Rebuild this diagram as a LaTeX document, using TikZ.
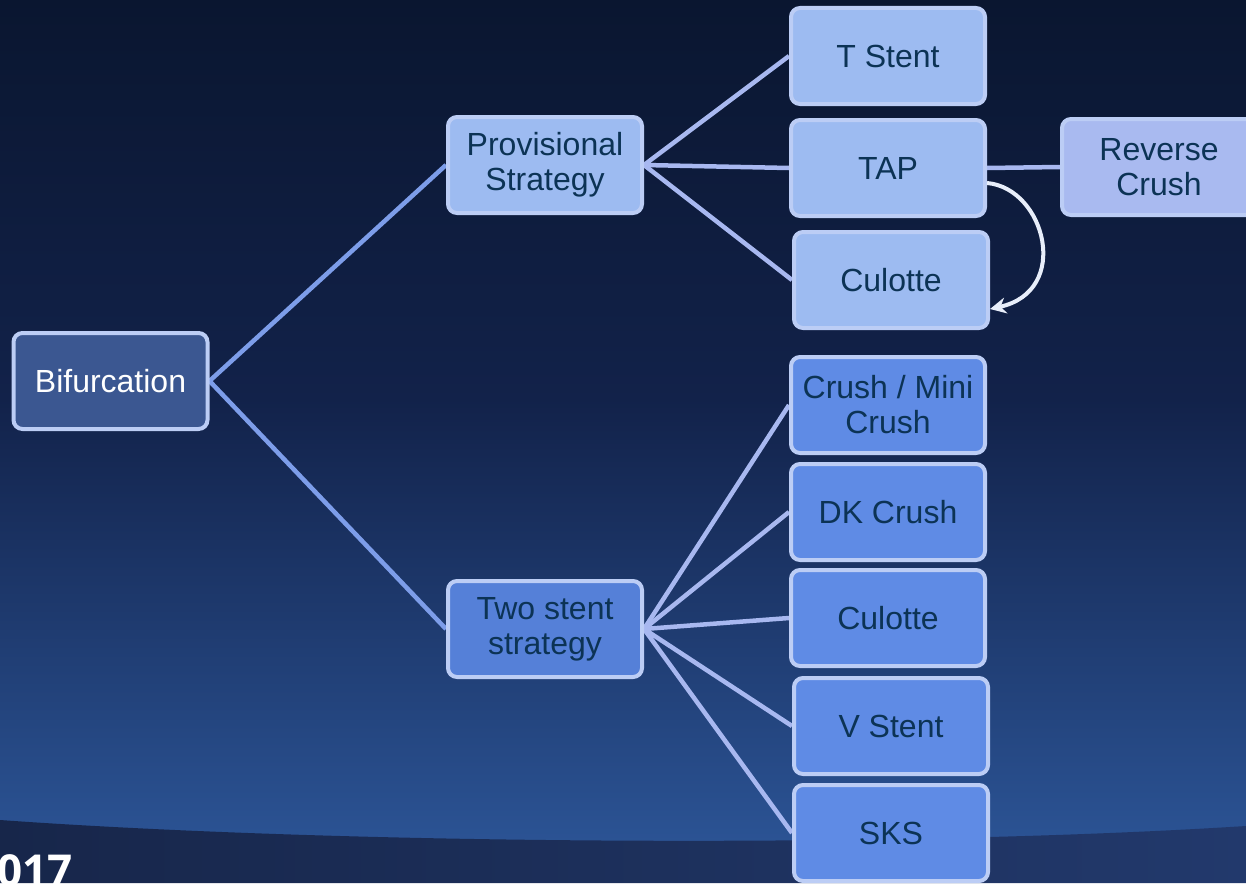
\documentclass[tikz,border=0pt]{standalone}
\usepackage{fontspec}
\setmainfont{Liberation Sans}
\newfontfamily\yearfont{Open Sans}
\usetikzlibrary{arrows.meta,calc,backgrounds}
\definecolor{bgtop}{HTML}{0A1630}
\definecolor{bgmid}{HTML}{12224A}
\definecolor{bglow}{HTML}{2C5597}
\definecolor{bgdarkL}{HTML}{17264A}
\definecolor{bgdarkR}{HTML}{22396C}
\definecolor{boxline}{HTML}{BCCDF5}
\definecolor{bifill}{HTML}{3B5791}
\definecolor{lightfill}{HTML}{9DBBF1}
\definecolor{revfill}{HTML}{A9BAF0}
\definecolor{twofill}{HTML}{5580D8}
\definecolor{lowfill}{HTML}{5F8BE5}
\definecolor{txtdark}{HTML}{0C3355}
\definecolor{connA}{HTML}{7D9DE9}
\definecolor{connB}{HTML}{A8B8F0}
\definecolor{curvcol}{HTML}{E8EEFA}
\begin{document}
\begin{tikzpicture}[x=1pt,y=-1pt,
  box/.style={draw=boxline, line width=4pt, rounded corners=9pt,
    minimum width=194pt, minimum height=96pt, align=center,
    font=\fontsize{32}{35}\selectfont, text=txtdark, inner sep=0pt},
  linkA/.style={draw=connA, line width=4.5pt},
  linkB/.style={draw=connB, line width=4.5pt},
  curvearrow/.style={draw=curvcol, line width=4pt, -{Stealth[length=16pt,width=16pt]}}]
\useasboundingbox (0,0) rectangle (1246,883);
\clip (0,0) rectangle (1246,883);
\begin{scope}[on background layer]
  \fill[bgtop] (0,0) rectangle (1246,883);
  \shade[top color=bgtop, bottom color=bgmid] (0,0) rectangle (1246,400);
  \shade[top color=bgmid, bottom color=bglow] (0,399) rectangle (1246,860);
  \shade[left color=bgdarkL, right color=bgdarkR]
    (0,820) .. controls (350,845) and (900,848) .. (1246,826) -- (1246,883) -- (0,883) -- cycle;
\end{scope}
\node[anchor=base west, text=white, font=\yearfont\bfseries\fontsize{44}{44}\selectfont, inner sep=0pt] (year) at (-3,886) {017};

\node[box, fill=bifill, text=white] (bif) at (110.5,381) {Bifurcation};
\node[box, fill=lightfill] (prov) at (545,165) {Provisional\\Strategy};
\node[box, fill=lightfill] (tst) at (888,56) {T Stent};
\node[box, fill=lightfill] (tap) at (888,168) {TAP};
\node[box, fill=lightfill] (cul1) at (891,280) {Culotte};
\node[box, fill=revfill] (rev) at (1159,167) {Reverse\\Crush};
\node[box, fill=twofill] (two) at (545,629) {Two stent\\strategy};
\node[box, fill=lowfill] (crush) at (888,405) {Crush / Mini\\Crush};
\node[box, fill=lowfill] (dk) at (888,512) {DK Crush};
\node[box, fill=lowfill] (cul2) at (888,618) {Culotte};
\node[box, fill=lowfill] (vst) at (891,726) {V Stent};
\node[box, fill=lowfill] (sks) at (891,833) {SKS};

\begin{scope}[on background layer]
  \draw[linkA] (bif.east) -- (prov.west);
  \draw[linkA] (bif.east) -- (two.west);
  \draw[linkB] (prov.east) -- (tst.west);
  \draw[linkB] (prov.east) -- (tap.west);
  \draw[linkB] (prov.east) -- (cul1.west);
  \draw[linkB] (tap.east) -- (rev.west);
  \draw[linkB] (two.east) -- (crush.west);
  \draw[linkB] (two.east) -- (dk.west);
  \draw[linkB] (two.east) -- (cul2.west);
  \draw[linkB] (two.east) -- (vst.west);
  \draw[linkB] (two.east) -- (sks.west);
\end{scope}

\draw[curvearrow] ([yshift=-15pt]tap.east) .. controls +(58,5) and +(82,-18) .. ([yshift=21pt]cul1.south east);
\end{tikzpicture}
\end{document}
